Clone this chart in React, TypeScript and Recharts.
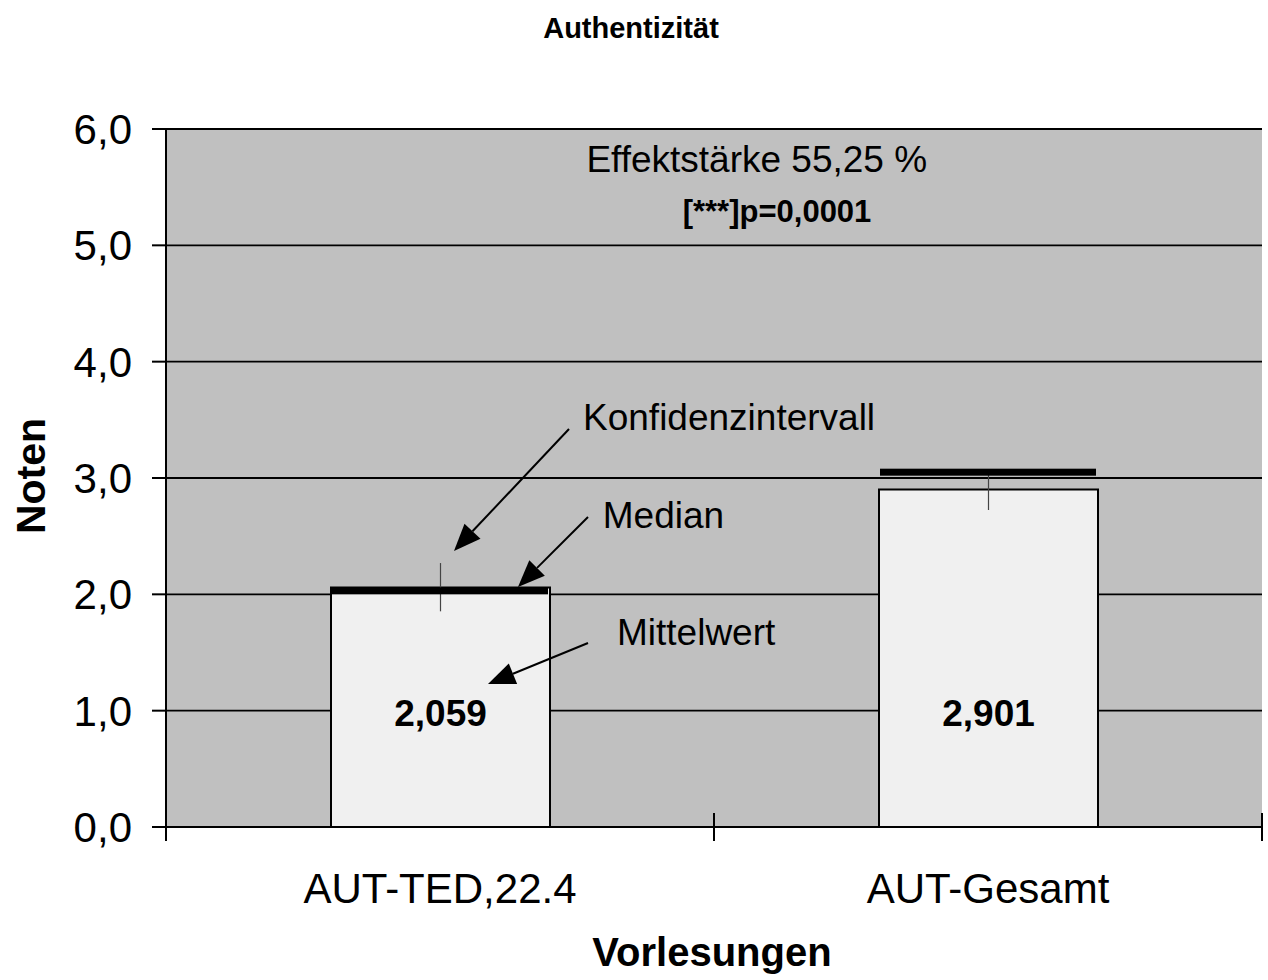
import {
  ComposedChart, Bar, ErrorBar, Scatter, XAxis, YAxis, CartesianGrid, LabelList,
  ReferenceLine, ReferenceDot,
} from 'recharts';

const FONT = '"Liberation Sans", Arial, sans-serif';

// Kategorien und Werte
const categories = ['AUT-TED,22.4', 'AUT-Gesamt'];
const positions = [0.5, 1.5];
const means = [2.059, 2.901];
const medians = [2.03, 3.05];
const ciDown = [0.205, 0.176];
const ciUp = [0.21, 0.176];

const yTicks = [0, 1, 2, 3, 4, 5, 6];
const xTicks = [0, 0.5, 1, 1.5, 2];

// Beschriftungen im Diagramm (Datenkoordinaten)
const notes = [
  { text: 'Effektstärke 55,25 %', x: 1.078, y: 5.63, anchor: 'middle', size: 37, bold: false },
  { text: '[***]p=0,0001', x: 1.115, y: 5.2, anchor: 'middle', size: 31, bold: true },
  { text: 'Konfidenzintervall', x: 0.761, y: 3.413, anchor: 'start', size: 37, bold: false },
  { text: 'Median', x: 0.797, y: 2.57, anchor: 'start', size: 37, bold: false },
  { text: 'Mittelwert', x: 0.823, y: 1.564, anchor: 'start', size: 37, bold: false },
];

const arrows = [
  { from: [0.7354, 3.421], to: [0.5255, 2.373] },
  { from: [0.7701, 2.665], to: [0.6423, 2.063] },
  { from: [0.7701, 1.582], to: [0.5876, 1.229] },
];

const data = categories.map((name, i) => ({
  name,
  pos: positions[i],
  mean: means[i],
  median: medians[i],
  ci: [ciDown[i], ciUp[i]],
}));

const fmt = (v: number, d = 1) => v.toFixed(d).replace('.', ',');

function XTick(p: any) {
  const v = p.payload.value;
  if (Number.isInteger(v)) {
    return <line x1={p.x} x2={p.x} y1={p.y - 14} y2={p.y + 14} stroke="#000" strokeWidth={2} />;
  }
  const idx = positions.indexOf(v);
  return (
    <text x={p.x} y={p.y + 76} textAnchor="middle" fontSize={42} fontFamily={FONT} fill="#000">
      {categories[idx]}
    </text>
  );
}

function Arrow(p: any) {
  const { x1, y1, x2, y2 } = p;
  const dx = x2 - x1, dy = y2 - y1;
  const len = Math.hypot(dx, dy);
  const ux = dx / len, uy = dy / len;
  const hl = 27, hw = 11;
  const bx = x2 - ux * hl, by = y2 - uy * hl;
  return (
    <g>
      <line x1={x1} y1={y1} x2={bx} y2={by} stroke="#000" strokeWidth={2} />
      <polygon
        points={`${x2},${y2} ${bx - uy * hw},${by + ux * hw} ${bx + uy * hw},${by - ux * hw}`}
        fill="#000"
      />
    </g>
  );
}

export default function App() {
  return (
    <div style={{ position: 'relative', width: 1268, height: 980, fontFamily: FONT }}>
      <style>{'body{margin:0}'}</style>
      <ComposedChart
        width={1268}
        height={980}
        data={data}
        margin={{ top: 129, right: 6, bottom: 0, left: 0 }}
      >
        <CartesianGrid vertical={false} stroke="#000" strokeWidth={1.8} fill="#c0c0c0" fillOpacity={1} />
        <XAxis
          dataKey="pos"
          type="number"
          domain={[0, 2]}
          ticks={xTicks}
          interval={0}
          height={153}
          tickLine={false}
          tickSize={0}
          tickMargin={0}
          tick={<XTick />}
          axisLine={{ stroke: '#000', strokeWidth: 2 }}
          allowDataOverflow
        />
        <YAxis
          domain={[0, 6]}
          ticks={yTicks}
          width={166}
          interval={0}
          tickSize={14}
          tickMargin={20}
          tickFormatter={(v: number) => fmt(v)}
          tick={{ fontSize: 42, fill: '#000', fontFamily: FONT }}
          tickLine={{ stroke: '#000', strokeWidth: 2 }}
          axisLine={{ stroke: '#000', strokeWidth: 2 }}
          allowDataOverflow
        />
        <Bar dataKey="mean" barSize={219} fill="#f0f0f0" stroke="#000" strokeWidth={2} isAnimationActive={false}>
          <ErrorBar dataKey="ci" width={0} stroke="#444" strokeWidth={1.2} direction="y" />
          <LabelList
            dataKey="mean"
            content={(p: any) => (
              <text
                x={p.x + p.width / 2}
                y={p.y + p.height - 101}
                textAnchor="middle"
                fontSize={37}
                fontWeight="bold"
                fontFamily={FONT}
                fill="#000"
              >
                {fmt(p.value, 3)}
              </text>
            )}
          />
        </Bar>
        <Scatter
          dataKey="median"
          isAnimationActive={false}
          shape={(p: any) => <rect x={p.cx - 108} y={p.cy - 3.5} width={216} height={7} fill="#000" />}
        />
        {arrows.map((a, i) => (
          <ReferenceLine
            key={'a' + i}
            segment={[{ x: a.from[0], y: a.from[1] }, { x: a.to[0], y: a.to[1] }]}
            shape={(p: any) => <Arrow {...p} />}
          />
        ))}
        {notes.map((n, i) => (
          <ReferenceDot
            key={'n' + i}
            x={n.x}
            y={n.y}
            shape={(p: any) => (
              <text
                x={p.cx}
                y={p.cy}
                textAnchor={n.anchor}
                fontSize={n.size}
                fontWeight={n.bold ? 'bold' : 'normal'}
                fontFamily={FONT}
                fill="#000"
              >
                {n.text}
              </text>
            )}
          />
        ))}
        <text x={631} y={38} textAnchor="middle" fontSize={29} fontWeight="bold" fontFamily={FONT} fill="#000">
          Authentizität
        </text>
        <text
          x={45}
          y={476}
          transform="rotate(-90 45 476)"
          textAnchor="middle"
          fontSize={41}
          fontWeight="bold"
          fontFamily={FONT}
          fill="#000"
        >
          Noten
        </text>
        <text x={712} y={966} textAnchor="middle" fontSize={40} fontWeight="bold" fontFamily={FONT} fill="#000">
          Vorlesungen
        </text>
      </ComposedChart>
    </div>
  );
}
